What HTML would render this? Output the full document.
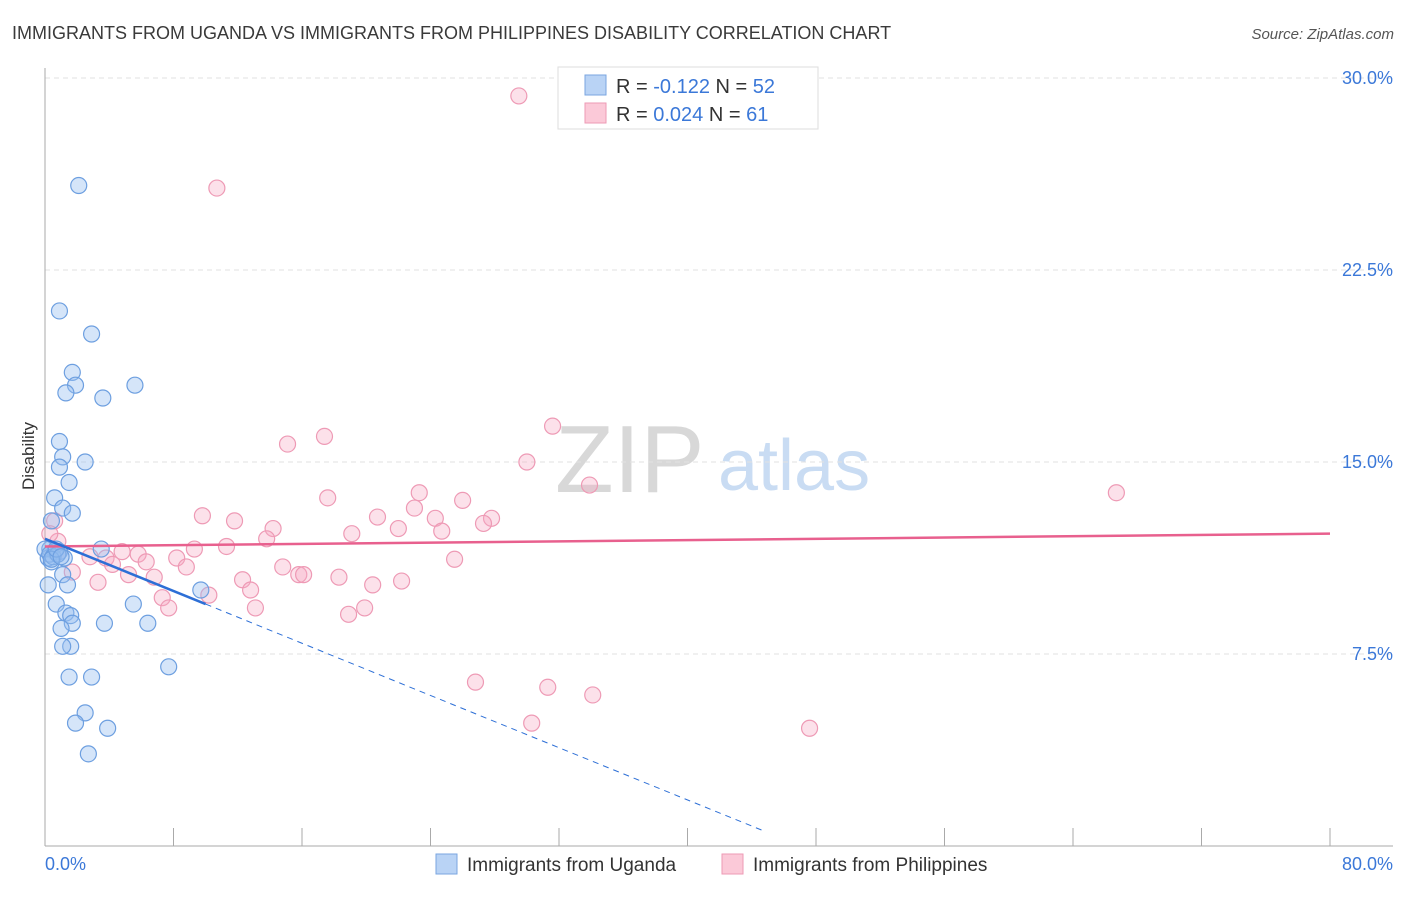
<!DOCTYPE html>
<html><head><meta charset="utf-8"><style>
body{margin:0;background:#fff;font-family:"Liberation Sans",sans-serif;}
svg text{font-family:"Liberation Sans",sans-serif;}
</style></head><body>
<svg id="chart" width="1406" height="892" xmlns="http://www.w3.org/2000/svg">
<text x="12" y="39" font-size="18" fill="#3a3a3a">IMMIGRANTS FROM UGANDA VS IMMIGRANTS FROM PHILIPPINES DISABILITY CORRELATION CHART</text>
<text x="1394" y="39" font-size="15" fill="#555" text-anchor="end" font-style="italic">Source: ZipAtlas.com</text>
<text x="555" y="492" font-size="96" fill="#d8d8d8" font-family="Liberation Serif">ZIP</text>
<text x="718" y="490" font-size="72" fill="#c9dcf3">atlas</text>
<g id="grid"></g><g id="axes"></g>
<g id="pink"></g><g id="blue"></g><g id="trend"></g>
<text transform="translate(34,456) rotate(-90)" font-size="17" fill="#333" text-anchor="middle">Disability</text>
<g>
<rect x="558" y="67" width="260" height="62" fill="#fff" stroke="#ddd"/>
<rect x="585" y="75" width="21" height="20" fill="#b9d3f5" stroke="#7aa6e0"/>
<rect x="585" y="103" width="21" height="20" fill="#fbc9d8" stroke="#ee9ab5"/>
<text x="616" y="93" font-size="20" fill="#333">R = <tspan fill="#3b78d8">-0.122</tspan>   N = <tspan fill="#3b78d8">52</tspan></text>
<text x="616" y="121" font-size="20" fill="#333">R =  <tspan fill="#3b78d8">0.024</tspan>   N =  <tspan fill="#3b78d8">61</tspan></text>
</g>
<g>
<rect x="436" y="854" width="21" height="20" fill="#b9d3f5" stroke="#7aa6e0"/>
<text x="467" y="871" font-size="19" fill="#333">Immigrants from Uganda</text>
<rect x="722" y="854" width="21" height="20" fill="#fbc9d8" stroke="#ee9ab5"/>
<text x="753" y="871" font-size="19" fill="#333">Immigrants from Philippines</text>
</g>
</svg>
<script>
const yTicks=[7.5,15,22.5,30];
const yTickLabels=["7.5%","15.0%","22.5%","30.0%"];
const xTickLabels=["0.0%","80.0%"];
const blueX=[2.1,0.9,2.9,1.7,1.9,1.3,5.6,3.6,0.9,1.1,0.9,2.5,1.5,0.6,1.1,1.7,0.4,0.3,0.6,0.9,0.2,1.2,0.4,3.5,1.1,1.4,0.2,9.7,0.7,5.5,1.3,1.6,1.7,3.7,6.4,1.0,1.6,1.1,7.7,1.5,2.9,2.5,1.9,3.9,2.7,0.0,0.3,0.5,0.8,0.4,0.7,1.0];
const blueY=[25.8,20.9,20.0,18.5,18.0,17.7,18.0,17.5,15.8,15.2,14.8,15.0,14.2,13.6,13.2,13.0,12.7,11.6,11.5,11.5,11.25,11.25,11.1,11.6,10.6,10.2,10.2,10.0,9.45,9.45,9.1,9.0,8.7,8.7,8.7,8.5,7.8,7.8,7.0,6.6,6.6,5.2,4.8,4.6,3.6,11.6,11.4,11.3,11.4,11.2,11.6,11.3];
const pinkX=[29.5,10.7,31.6,17.4,15.1,30.0,33.9,66.7,17.6,23.3,26.0,23.0,9.8,20.7,11.8,24.3,27.8,27.3,14.2,22.0,24.7,19.1,13.8,0.6,0.8,11.3,9.3,4.8,5.8,3.8,8.2,6.3,25.5,8.8,14.8,1.7,4.2,5.2,6.8,15.8,16.1,12.3,18.3,22.2,20.4,3.3,12.8,10.2,7.3,7.7,13.1,19.9,18.9,26.8,31.3,34.1,30.3,47.6,2.8,0.9,0.3];
const pinkY=[29.3,25.7,16.4,16.0,15.7,15.0,14.1,13.8,13.6,13.8,13.5,13.2,12.9,12.85,12.7,12.8,12.8,12.6,12.4,12.4,12.3,12.2,12.0,12.7,11.9,11.7,11.6,11.5,11.4,11.25,11.25,11.1,11.2,10.9,10.9,10.7,11.0,10.6,10.5,10.6,10.6,10.4,10.5,10.35,10.2,10.3,10.0,9.8,9.7,9.3,9.3,9.3,9.05,6.4,6.2,5.9,4.8,4.6,11.3,11.5,12.2];
const blueTrend=[[0,12.0],[10,9.45]];
const blueTrendEnd=44.8;
const pinkTrend=[[0,11.7],[80,12.2]];
const NS="http://www.w3.org/2000/svg";
const sx=v=>45+v*1285/80, sy=v=>846-v*25.6;
function mk(tag,parent,attrs){const e=document.createElementNS(NS,tag);for(const k in attrs)e.setAttribute(k,attrs[k]);document.getElementById(parent).appendChild(e);return e;}
yTicks.forEach((t,i)=>{
 const l=mk('line','grid',{x1:45,x2:1393,y1:sy(t),y2:sy(t),stroke:'#e2e2e2','stroke-dasharray':'5,4'});
 
 
 const tx=mk('text','axes',{x:1393,y:sy(t)+6,'font-size':18,fill:'#3b78d8','text-anchor':'end'});
 tx.textContent=yTickLabels[i];
 
 
});
const ax=mk('line','axes',{x1:45,x2:45,y1:68,y2:846,stroke:'#aaa'});


const bx=mk('line','axes',{x1:45,x2:1393,y1:846,y2:846,stroke:'#aaa'});


for(let i=0;i<=10;i++){const t=mk('line','axes',{x1:sx(i*8),x2:sx(i*8),y1:828,y2:846,stroke:'#aaa'});
 
 }
[[0,45,'start'],[80,1393,'end']].forEach((a,i)=>{const t=mk('text','axes',{x:a[1],y:870,'font-size':18,fill:'#3b78d8','text-anchor':a[2]});t.textContent=xTickLabels[i];
 
 });
pinkX.forEach((v,i)=>{const c=mk('circle','pink',{cx:sx(v),cy:sy(pinkY[i]),r:8,fill:'rgba(246,170,195,0.35)',stroke:'#ee9ab5','stroke-width':1.2});
 
 });
blueX.forEach((v,i)=>{const c=mk('circle','blue',{cx:sx(v),cy:sy(blueY[i]),r:8,fill:'rgba(150,190,240,0.4)',stroke:'#6d9fe0','stroke-width':1.2});
 
 });
const pl=mk('line','trend',{x1:sx(pinkTrend[0][0]),y1:sy(pinkTrend[0][1]),x2:sx(pinkTrend[1][0]),y2:sy(pinkTrend[1][1]),stroke:'#e8608e','stroke-width':2.5});


const slope=(blueTrend[1][1]-blueTrend[0][1])/(blueTrend[1][0]-blueTrend[0][0]);
const bl=mk('line','trend',{x1:sx(blueTrend[0][0]),y1:sy(blueTrend[0][1]),x2:sx(blueTrend[1][0]),y2:sy(blueTrend[1][1]),stroke:'#2d6fd6','stroke-width':2.5});


const bd=mk('line','trend',{x1:sx(blueTrend[1][0]),y1:sy(blueTrend[1][1]),x2:sx(blueTrendEnd),y2:sy(blueTrend[0][1]+slope*blueTrendEnd),stroke:'#2d6fd6','stroke-width':1,'stroke-dasharray':'6,5'});


</script>
</body></html>
